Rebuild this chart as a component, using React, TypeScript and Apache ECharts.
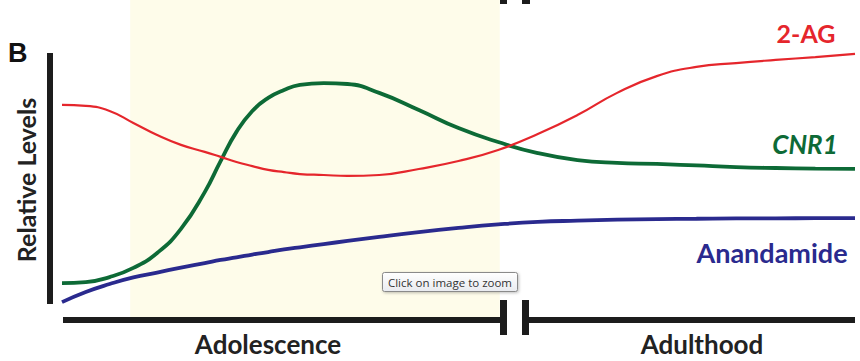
import React, { useEffect, useRef } from "react";
import * as echarts from "echarts";

// Relative age (0 = early life, 100 = late adulthood)
const ages = [0, 3, 6, 9, 12, 15, 18, 20, 22, 24, 26, 28, 30, 33, 36, 40, 45, 50, 55, 60, 65, 70, 75, 80, 85, 90, 95, 100];
// Relative levels (0–100)
const ag2 = [66.9, 66.6, 65.0, 61.2, 57.4, 54.3, 52.1, 50.5, 48.9, 47.6, 46.4, 45.7, 45.1, 44.8, 44.5, 44.8, 46.7, 49.2, 52.7, 57.7, 63.7, 70.7, 76.0, 78.9, 80.1, 81.1, 82.0, 83.0];
const cnr1 = [10.7, 11.0, 12.6, 15.5, 20.2, 27.8, 39.4, 49.2, 58.4, 65.0, 69.1, 71.6, 73.2, 73.8, 73.5, 70.7, 65.3, 59.6, 55.2, 51.7, 49.5, 48.6, 48.3, 47.8, 47.3, 47.0, 46.8, 46.7];
const anandamide = [4.7, 7.9, 10.4, 12.5, 14.0, 15.6, 17.0, 18.0, 18.8, 19.7, 20.5, 21.3, 22.0, 23.0, 24.0, 25.3, 26.8, 28.1, 29.2, 30.0, 30.4, 30.7, 30.9, 31.0, 31.1, 31.1, 31.2, 31.2];
const adolescenceSpan = [8.6, 55.2];
const seriesNames = ["2-AG", "CNR1", "Anandamide"];
const periodLabels = ["Adolescence", "Adulthood"];

const RED = "#E5262C";
const GREEN = "#0D6A36";
const BLUE = "#2A2A8E";
const AXIS = "#1c1c1c";
const FONT = "Lato, 'Open Sans', sans-serif";

export default function App() {
  const ref = useRef<HTMLDivElement>(null);

  useEffect(() => {
    document.body.style.margin = "0";
    const chart = echarts.init(ref.current!, null, { renderer: "svg" });
    const pts = (vals: number[]) => ages.map((a, i) => [a, vals[i]]);

    chart.setOption({
      animation: false,
      backgroundColor: "#ffffff",
      grid: { left: 62, right: 5, top: 0, bottom: 44 },
      xAxis: { type: "value", min: 0, max: 100, show: false },
      yAxis: { type: "value", min: 0, max: 100, show: false },
      series: [
        {
          name: seriesNames[0],
          type: "line",
          data: pts(ag2),
          smooth: 0.5,
          showSymbol: false,
          lineStyle: { color: RED, width: 2.2 },
          z: 3,
          markArea: {
            silent: true,
            itemStyle: { color: "#FEFCEA" },
            data: [[{ xAxis: adolescenceSpan[0] }, { xAxis: adolescenceSpan[1] }]],
          },
        },
        {
          name: seriesNames[1],
          type: "line",
          data: pts(cnr1),
          smooth: 0.5,
          showSymbol: false,
          lineStyle: { color: GREEN, width: 3.8 },
          z: 2,
        },
        {
          name: seriesNames[2],
          type: "line",
          data: pts(anandamide),
          smooth: 0.5,
          showSymbol: false,
          lineStyle: { color: BLUE, width: 3.8 },
          z: 2,
        },
      ],
      graphic: [
        // panel letter
        { type: "text", left: 8, top: 39, z: 10, style: { text: "B", font: "bold 27px 'Liberation Sans', Arial, sans-serif", fill: "#111" } },
        // y-axis title
        {
          type: "text", x: 26, y: 180, rotation: Math.PI / 2, z: 10,
          style: { text: "Relative Levels", font: `bold 25px ${FONT}`, fill: "#222", align: "center", verticalAlign: "middle" },
        },
        // y-axis bar
        { type: "rect", z: 10, shape: { x: 47, y: 53, width: 6, height: 251 }, style: { fill: AXIS } },
        // x-axis bars with break
        { type: "rect", z: 10, shape: { x: 63, y: 317, width: 440, height: 6 }, style: { fill: AXIS } },
        { type: "rect", z: 10, shape: { x: 500, y: 300, width: 7, height: 35 }, style: { fill: AXIS } },
        { type: "rect", z: 10, shape: { x: 522, y: 300, width: 7, height: 35 }, style: { fill: AXIS } },
        { type: "rect", z: 10, shape: { x: 526, y: 317, width: 329, height: 6 }, style: { fill: AXIS } },
        // top break marks (from panel above)
        { type: "rect", z: 10, shape: { x: 500, y: 0, width: 7, height: 4 }, style: { fill: AXIS } },
        { type: "rect", z: 10, shape: { x: 522, y: 0, width: 8, height: 4 }, style: { fill: AXIS } },
        // period labels
        { type: "text", x: 268, y: 344, z: 10, style: { text: periodLabels[0], font: `bold 26px ${FONT}`, fill: "#222", align: "center", verticalAlign: "middle" } },
        { type: "text", x: 702, y: 344, z: 10, style: { text: periodLabels[1], font: `bold 26px ${FONT}`, fill: "#222", align: "center", verticalAlign: "middle" } },
        // series labels
        { type: "text", x: 806, y: 33, z: 10, style: { text: seriesNames[0], font: `bold 25px ${FONT}`, fill: RED, align: "center", verticalAlign: "middle" } },
        { type: "text", x: 805, y: 144, z: 10, style: { text: seriesNames[1], font: `italic bold 26px ${FONT}`, fill: GREEN, align: "center", verticalAlign: "middle" } },
        { type: "text", x: 772, y: 252, z: 10, style: { text: seriesNames[2], font: `bold 27px ${FONT}`, fill: BLUE, align: "center", verticalAlign: "middle" } },
        // "click to zoom" tooltip box
        {
          type: "rect", z: 20, shape: { x: 382.5, y: 272.5, width: 135, height: 19, r: 2 },
          style: {
            fill: new echarts.graphic.LinearGradient(0, 0, 0, 1, [
              { offset: 0, color: "#ffffff" },
              { offset: 1, color: "#e9ebf0" },
            ]),
            stroke: "#8a8a8a", lineWidth: 1,
            shadowBlur: 3, shadowOffsetX: 1, shadowOffsetY: 1, shadowColor: "rgba(0,0,0,0.25)",
          },
        },
        { type: "text", x: 450, y: 282, z: 21, style: { text: "Click on image to zoom", font: "11.5px 'Open Sans', 'Noto Sans', sans-serif", fill: "#333", align: "center", verticalAlign: "middle" } },
      ],
    });
    return () => chart.dispose();
  }, []);

  return <div ref={ref} style={{ width: 860, height: 361 }} />;
}
